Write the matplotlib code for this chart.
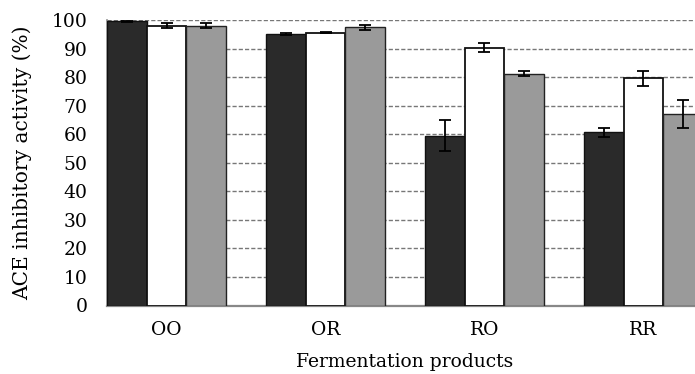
import matplotlib
matplotlib.use("Agg")
import matplotlib.pyplot as plt
import numpy as np

# --- data ---
products = ["OO", "OR", "RO", "RR"]
dark_vals = [99.5, 95.1, 59.5, 60.7]
white_vals = [98.0, 95.6, 90.3, 79.6]
grey_vals = [98.0, 97.4, 81.2, 67.1]
dark_err = [0.3, 0.3, 5.5, 1.6]
white_err = [0.8, 0.3, 1.5, 2.6]
grey_err = [0.8, 1.0, 0.9, 4.8]
y_ticks = list(range(0, 101, 10))

plt.rcParams["font.family"] = ["DejaVu Serif"]

fig = plt.figure(figsize=(6.95, 3.74), dpi=100)
# axes runs a bit past the right edge, the original is cropped there
ax = fig.add_axes([107 / 695, 1 - 305.5 / 374, 596 / 695, 285.5 / 374])

x = np.arange(len(products))
w = 0.25
err_kw = dict(ecolor="black", elinewidth=1.3, capsize=4, capthick=1.3)
ax.bar(x - w, dark_vals, w, yerr=dark_err, color="#2a2a2a", edgecolor="#111111",
       linewidth=1.0, error_kw=err_kw, zorder=3)
ax.bar(x, white_vals, w, yerr=white_err, color="white", edgecolor="#111111",
       linewidth=1.3, error_kw=err_kw, zorder=3)
ax.bar(x + w, grey_vals, w, yerr=grey_err, color="#9a9a9a", edgecolor="#222222",
       linewidth=1.0, error_kw=err_kw, zorder=3)

ax.set_xlim(-0.375, 3.375)
ax.set_ylim(0, 100)
ax.set_yticks(y_ticks)
ax.set_xticks(x)
ax.set_xticklabels(products)
ax.yaxis.grid(True, linestyle=(0, (3, 1.5)), color="#777777", linewidth=1.0, zorder=0)
ax.set_axisbelow(True)

for s in ["top", "right"]:
    ax.spines[s].set_visible(False)
ax.spines["left"].set_color("#888888")
ax.spines["left"].set_linewidth(1.2)
ax.spines["bottom"].set_color("#888888")
ax.spines["bottom"].set_linewidth(1.6)

ax.tick_params(axis="y", length=0, pad=14, labelsize=13.5)
ax.tick_params(axis="x", length=0, pad=11, labelsize=13.5)

ax.set_xlabel("Fermentation products", fontsize=13.5, va="baseline")
ax.set_ylabel("ACE inhibitory activity (%)", fontsize=14.5, va="center")
ax.xaxis.set_label_coords(298 / 596, -61.5 / 285.5)
ax.yaxis.set_label_coords(-85 / 596, 0.5)

fig.savefig("out.png", dpi=100)
